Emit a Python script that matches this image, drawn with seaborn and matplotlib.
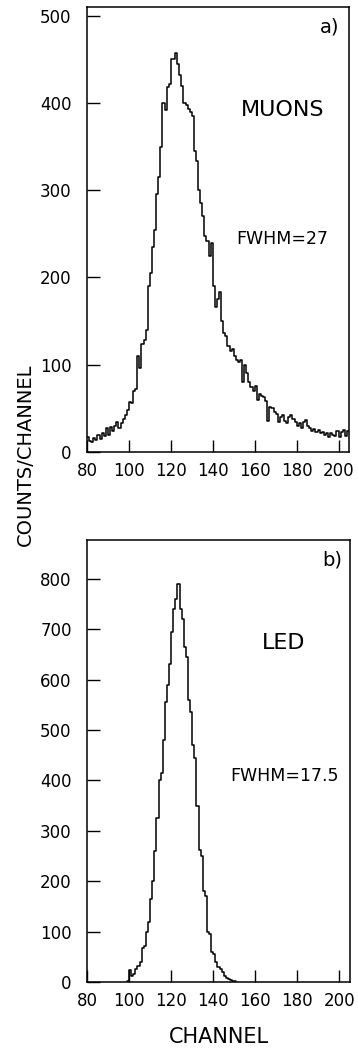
import numpy as np
import pandas as pd
import matplotlib
matplotlib.use("Agg")
import matplotlib.pyplot as plt
import seaborn as sns

# ---------------- data ----------------
muon_channels = list(range(80, 205))
muon_counts = [
    17, 13, 12, 16, 14, 20, 15, 22, 18, 28,
    20, 29, 24, 30, 34, 28, 33, 38, 42, 48,
    57, 56, 70, 72, 110, 96, 124, 128, 140, 190,
    205, 235, 254, 296, 315, 349, 400, 392, 418, 422,
    450, 450, 457, 445, 432, 420, 400, 398, 393, 390,
    385, 345, 333, 300, 285, 270, 248, 242, 225, 240,
    190, 166, 175, 183, 150, 136, 133, 122, 116, 118,
    110, 106, 103, 105, 80, 100, 90, 80, 74, 70,
    76, 60, 66, 64, 63, 58, 36, 52, 50, 46,
    44, 34, 40, 42, 36, 33, 40, 42, 38, 34,
    30, 33, 28, 34, 37, 30, 28, 24, 26, 23,
    25, 22, 23, 20, 22, 17, 22, 20, 18, 24,
    17, 23, 25, 18, 24,
]
led_channels = list(range(99, 151))
led_counts = [
    2,
    24, 12, 15, 25, 32, 40, 67, 72, 100, 120,
    165, 200, 260, 325, 400, 415, 480, 555, 590, 630,
    695, 740, 760, 790, 740, 720, 665, 645, 560, 535,
    470, 445, 350, 262, 250, 180, 170, 100, 95, 60,
    55, 40, 30, 25, 20, 12, 8, 6, 4, 2,
    1,
]
x_ticks = [80, 100, 120, 140, 160, 180, 200]
muon_yticks = [0, 100, 200, 300, 400, 500]
led_yticks = [0, 100, 200, 300, 400, 500, 600, 700, 800]
panel_a = "a)"
panel_b = "b)"
label_a = "MUONS"
label_b = "LED"
fwhm_a = "FWHM=27"
fwhm_b = "FWHM=17.5"
xlabel = "CHANNEL"
ylabel = "COUNTS/CHANNEL"

# ---------------- style ----------------
sns.set_style("white")
plt.rcParams["font.family"] = ["DejaVu Sans"]
plt.rcParams["text.color"] = "black"

W, H = 358, 1051
fig = plt.figure(figsize=(W / 100, H / 100), dpi=100)


def px_axes(left, top, right, bottom):
    return fig.add_axes([left / W, 1 - bottom / H, (right - left) / W, (bottom - top) / H])


ax1 = px_axes(87, 7, 349, 452)
ax2 = px_axes(87, 540, 350, 982)


def step_frame(channels, counts):
    # bin left edges plus the closing right edge of the last bin
    xs = list(channels) + [channels[-1] + 1]
    ys = list(counts) + [counts[-1]]
    return pd.DataFrame({"channel": xs, "counts": ys})


df_mu = step_frame(muon_channels, muon_counts)
df_led = step_frame(led_channels, led_counts)

sns.lineplot(data=df_mu, x="channel", y="counts", drawstyle="steps-post",
             estimator=None, sort=False, color="black", linewidth=1.1, ax=ax1)
sns.lineplot(data=df_led, x="channel", y="counts", drawstyle="steps-post",
             estimator=None, sort=False, color="black", linewidth=1.1, ax=ax2)

for ax, yt, ymax in [(ax1, muon_yticks, 510), (ax2, led_yticks, 877)]:
    ax.set_xlim(80, 205)
    ax.set_ylim(0, ymax)
    ax.set_xticks(x_ticks)
    ax.set_yticks(yt)
    ax.set_xlabel("")
    ax.set_ylabel("")
    ax.tick_params(direction="in", length=9, width=1.0, labelsize=12,
                   colors="black", bottom=True, left=True, top=False, right=False)
    ax.tick_params(axis="y", pad=11)
    ax.tick_params(axis="x", pad=7)
    for s in ax.spines.values():
        s.set_visible(True)
        s.set_color("black")
        s.set_linewidth(1.1)
    ax.grid(False)

# annotations
ax1.text(195.7, 487, panel_a, ha="center", va="center", fontsize=14)
ax1.text(173.3, 392, label_a, ha="center", va="center", fontsize=16)
ax1.text(173.3, 244, fwhm_a, ha="center", va="center", fontsize=12.5)
ax2.text(196.7, 837, panel_b, ha="center", va="center", fontsize=14)
ax2.text(173.3, 673, label_b, ha="center", va="center", fontsize=16)
ax2.text(174, 409, fwhm_b, ha="center", va="center", fontsize=12.5)

fig.text(25 / W, 1 - 455 / H, ylabel, rotation=90, ha="center", va="center", fontsize=14)
fig.text(219 / W, 1 - 1037 / H, xlabel, ha="center", va="center", fontsize=15)

fig.savefig("out.png", dpi=100)
